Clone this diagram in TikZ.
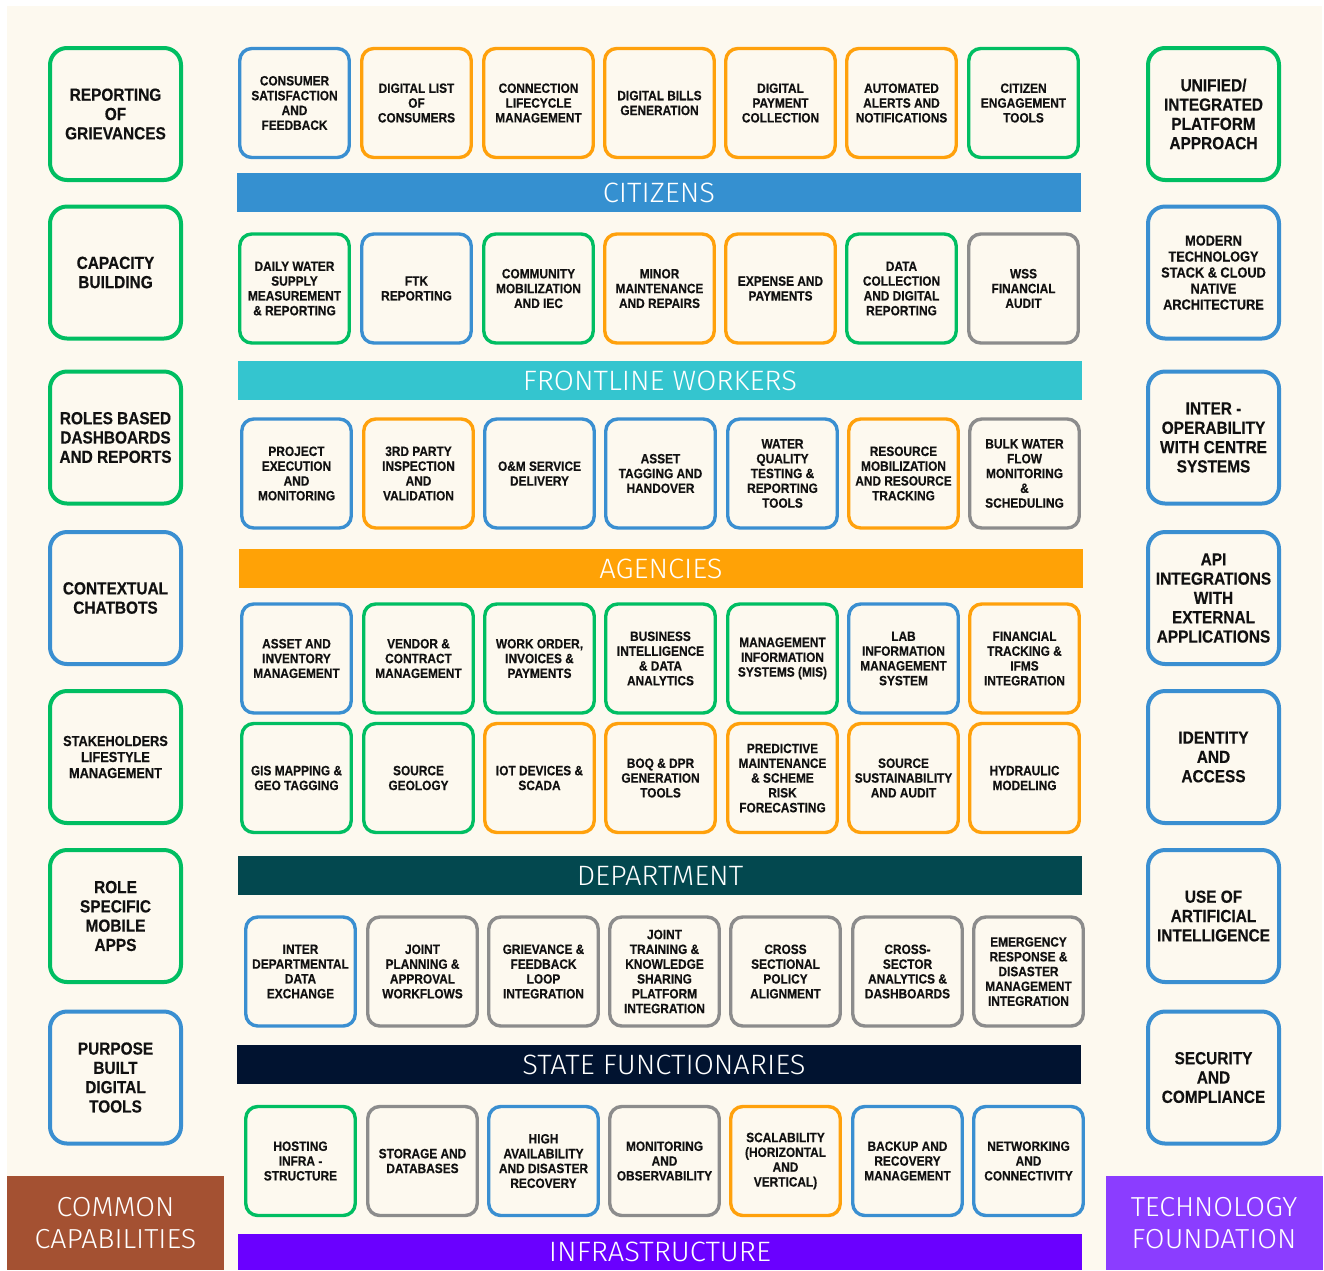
\documentclass[tikz,border=0pt]{standalone}
\usepackage{fontspec}
\newfontfamily\boxfont{Liberation Sans}[FakeStretch=0.88,FakeBold=0.4]
\newfontfamily\bandfont{Fira Sans Light}[FakeStretch=1.04]

\definecolor{cream}{HTML}{FDF9EF}
\definecolor{ink}{HTML}{111111}
\definecolor{cgreen}{HTML}{00BE62}
\definecolor{cblue}{HTML}{3A8FD1}
\definecolor{corange}{HTML}{FFA10C}
\definecolor{cgray}{HTML}{8C8C8C}
\definecolor{bcitizens}{HTML}{3590D0}
\definecolor{bfront}{HTML}{34C5CF}
\definecolor{bagency}{HTML}{FFA206}
\definecolor{bdept}{HTML}{03484F}
\definecolor{bstate}{HTML}{011330}
\definecolor{binfra}{HTML}{6A00FF}
\definecolor{bcommon}{HTML}{A45132}
\definecolor{btech}{HTML}{8B3DFF}

\tikzset{
  cell/.style={draw=#1, line width=3.4pt, rounded corners=12pt, fill=cream,
    minimum width=109.5pt, minimum height=109pt, inner sep=0pt, align=center,
    text=ink, font=\boxfont\bfseries\fontsize{13.5}{14.8}\selectfont},
  side/.style={draw=#1, line width=4pt, rounded corners=17pt, fill=cream,
    minimum width=131pt, minimum height=132pt, inner sep=0pt, align=center,
    text=ink, font=\boxfont\bfseries\fontsize{17.5}{19.3}\selectfont},
  smallside/.style={font=\boxfont\bfseries\fontsize{14.5}{16}\selectfont},
  band/.style={fill=#1, minimum width=844pt, minimum height=39pt, inner sep=0pt,
    text=white, font=\bandfont\fontsize{28}{30}\selectfont},
  corner/.style={fill=#1, minimum width=217pt, minimum height=94pt, inner sep=0pt,
    align=center, text=white, font=\bandfont\fontsize{27.5}{32}\selectfont}
}

\begin{document}
\begin{tikzpicture}[x=1pt,y=-1pt]
\useasboundingbox (0,0) rectangle (1324,1270);
\fill[white] (0,0) rectangle (1324,1270);
\fill[cream] (7,6) rectangle (1322,1270);

% ---------- left column: common capabilities ----------
\node[side=cgreen] (l1) at (115.5,114)   {REPORTING\\OF\\GRIEVANCES};
\node[side=cgreen] (l2) at (115.5,272.5) {CAPACITY\\BUILDING};
\node[side=cgreen] (l3) at (115.5,437.5) {ROLES BASED\\DASHBOARDS\\AND REPORTS};
\node[side=cblue]  (l4) at (115.5,598)   {CONTEXTUAL\\CHATBOTS};
\node[side=cgreen, smallside] (l5) at (115.5,757) {STAKEHOLDERS\\LIFESTYLE\\MANAGEMENT};
\node[side=cgreen] (l6) at (115.5,916)   {ROLE\\SPECIFIC\\MOBILE\\APPS};
\node[side=cblue]  (l7) at (115.5,1077.5){PURPOSE\\BUILT\\DIGITAL\\TOOLS};

% ---------- right column: technology foundation ----------
\node[side=cgreen] (r1) at (1213.5,114)   {UNIFIED/\\INTEGRATED\\PLATFORM\\APPROACH};
\node[side=cblue, smallside] (r2) at (1213.5,272.5) {MODERN\\TECHNOLOGY\\STACK \& CLOUD\\NATIVE\\ARCHITECTURE};
\node[side=cblue]  (r3) at (1213.5,437.5) {INTER -\\OPERABILITY\\WITH CENTRE\\SYSTEMS};
\node[side=cblue]  (r4) at (1213.5,598)   {API\\INTEGRATIONS\\WITH\\EXTERNAL\\APPLICATIONS};
\node[side=cblue]  (r5) at (1213.5,757)   {IDENTITY\\AND\\ACCESS};
\node[side=cblue]  (r6) at (1213.5,916)   {USE OF\\ARTIFICIAL\\INTELLIGENCE};
\node[side=cblue]  (r7) at (1213.5,1077.5){SECURITY\\AND\\COMPLIANCE};

% ---------- citizens ----------
\node[cell=cblue]   (c11) at (294.5,103) {CONSUMER\\SATISFACTION\\AND\\FEEDBACK};
\node[cell=corange] (c12) at (416.5,103) {DIGITAL LIST\\OF\\CONSUMERS};
\node[cell=corange] (c13) at (538.5,103) {CONNECTION\\LIFECYCLE\\MANAGEMENT};
\node[cell=corange] (c14) at (659.5,103) {DIGITAL BILLS\\GENERATION};
\node[cell=corange] (c15) at (780.5,103) {DIGITAL\\PAYMENT\\COLLECTION};
\node[cell=corange] (c16) at (901.5,103) {AUTOMATED\\ALERTS AND\\NOTIFICATIONS};
\node[cell=cgreen]  (c17) at (1023.5,103){CITIZEN\\ENGAGEMENT\\TOOLS};
\node[band=bcitizens] (citizens) at (659,192.5) {CITIZENS};

% ---------- frontline workers ----------
\node[cell=cgreen]  (c21) at (294.5,288.5) {DAILY WATER\\SUPPLY\\MEASUREMENT\\\& REPORTING};
\node[cell=cblue]   (c22) at (416.5,288.5) {FTK\\REPORTING};
\node[cell=cgreen]  (c23) at (538.5,288.5) {COMMUNITY\\MOBILIZATION\\AND IEC};
\node[cell=corange] (c24) at (659.5,288.5) {MINOR\\MAINTENANCE\\AND REPAIRS};
\node[cell=corange] (c25) at (780.5,288.5) {EXPENSE AND\\PAYMENTS};
\node[cell=cgreen]  (c26) at (901.5,288.5) {DATA\\COLLECTION\\AND DIGITAL\\REPORTING};
\node[cell=cgray]   (c27) at (1023.5,288.5){WSS\\FINANCIAL\\AUDIT};
\node[band=bfront] (frontline) at (660,380.5) {FRONTLINE WORKERS};

% ---------- agencies ----------
\node[cell=cblue]   (c31) at (296.5,473.5) {PROJECT\\EXECUTION\\AND\\MONITORING};
\node[cell=corange] (c32) at (418.5,473.5) {3RD PARTY\\INSPECTION\\AND\\VALIDATION};
\node[cell=cblue]   (c33) at (539.5,473.5) {O\&M SERVICE\\DELIVERY};
\node[cell=cblue]   (c34) at (660.5,473.5) {ASSET\\TAGGING AND\\HANDOVER};
\node[cell=cblue]   (c35) at (782.5,473.5) {WATER\\QUALITY\\TESTING \&\\REPORTING\\TOOLS};
\node[cell=corange] (c36) at (903.5,473.5) {RESOURCE\\MOBILIZATION\\AND RESOURCE\\TRACKING};
\node[cell=cgray]   (c37) at (1024.5,473.5){BULK WATER\\FLOW\\MONITORING\\\&\\SCHEDULING};
\node[band=bagency] (agencies) at (661,568.5) {AGENCIES};

% ---------- department ----------
\node[cell=cblue]   (c41) at (296.5,658.5) {ASSET AND\\INVENTORY\\MANAGEMENT};
\node[cell=cgreen]  (c42) at (418.5,658.5) {VENDOR \&\\CONTRACT\\MANAGEMENT};
\node[cell=cgreen]  (c43) at (539.5,658.5) {WORK ORDER,\\INVOICES \&\\PAYMENTS};
\node[cell=cgreen]  (c44) at (660.5,658.5) {BUSINESS\\INTELLIGENCE\\\& DATA\\ANALYTICS};
\node[cell=cgreen]  (c45) at (782.5,658.5) {MANAGEMENT\\INFORMATION\\SYSTEMS (MIS)};
\node[cell=cblue]   (c46) at (903.5,658.5) {LAB\\INFORMATION\\MANAGEMENT\\SYSTEM};
\node[cell=corange] (c47) at (1024.5,658.5){FINANCIAL\\TRACKING \&\\IFMS\\INTEGRATION};

\node[cell=cgreen]  (c51) at (296.5,778) {GIS MAPPING \&\\GEO TAGGING};
\node[cell=cgreen]  (c52) at (418.5,778) {SOURCE\\GEOLOGY};
\node[cell=corange] (c53) at (539.5,778) {IOT DEVICES \&\\SCADA};
\node[cell=corange] (c54) at (660.5,778) {BOQ \& DPR\\GENERATION\\TOOLS};
\node[cell=corange] (c55) at (782.5,778) {PREDICTIVE\\MAINTENANCE\\\& SCHEME\\RISK\\FORECASTING};
\node[cell=corange] (c56) at (903.5,778) {SOURCE\\SUSTAINABILITY\\AND AUDIT};
\node[cell=corange] (c57) at (1024.5,778){HYDRAULIC\\MODELING};
\node[band=bdept] (department) at (660,875.5) {DEPARTMENT};

% ---------- state functionaries ----------
\node[cell=cblue] (c61) at (300.5,971.5) {INTER\\DEPARTMENTAL\\DATA\\EXCHANGE};
\node[cell=cgray] (c62) at (422.5,971.5) {JOINT\\PLANNING \&\\APPROVAL\\WORKFLOWS};
\node[cell=cgray] (c63) at (543.5,971.5) {GRIEVANCE \&\\FEEDBACK\\LOOP\\INTEGRATION};
\node[cell=cgray] (c64) at (664.5,971.5) {JOINT\\TRAINING \&\\KNOWLEDGE\\SHARING\\PLATFORM\\INTEGRATION};
\node[cell=cgray] (c65) at (785.5,971.5) {CROSS\\SECTIONAL\\POLICY\\ALIGNMENT};
\node[cell=cgray] (c66) at (907.5,971.5) {CROSS-\\SECTOR\\ANALYTICS \&\\DASHBOARDS};
\node[cell=cgray] (c67) at (1028.5,971.5){EMERGENCY\\RESPONSE \&\\DISASTER\\MANAGEMENT\\INTEGRATION};
\node[band=bstate] (state) at (659,1064.5) {\hspace*{10pt}STATE FUNCTIONARIES};

% ---------- infrastructure ----------
\node[cell=cgreen]  (c71) at (300.5,1161) {HOSTING\\INFRA -\\STRUCTURE};
\node[cell=cgray]   (c72) at (422.5,1161) {STORAGE AND\\DATABASES};
\node[cell=cblue]   (c73) at (543.5,1161) {HIGH\\AVAILABILITY\\AND DISASTER\\RECOVERY};
\node[cell=cgray]   (c74) at (664.5,1161) {MONITORING\\AND\\OBSERVABILITY};
\node[cell=corange] (c75) at (785.5,1161) {SCALABILITY\\(HORIZONTAL\\AND\\VERTICAL)};
\node[cell=cblue]   (c76) at (907.5,1161) {BACKUP AND\\RECOVERY\\MANAGEMENT};
\node[cell=cblue]   (c77) at (1028.5,1161){NETWORKING\\AND\\CONNECTIVITY};
\node[band=binfra, minimum height=36pt] (infra) at (660,1252) {INFRASTRUCTURE};

% ---------- corner titles ----------
\node[corner=bcommon] (common) at (115.5,1223) {COMMON\\CAPABILITIES};
\node[corner=btech]   (tech)   at (1214,1223)  {TECHNOLOGY\\FOUNDATION};
\end{tikzpicture}
\end{document}
